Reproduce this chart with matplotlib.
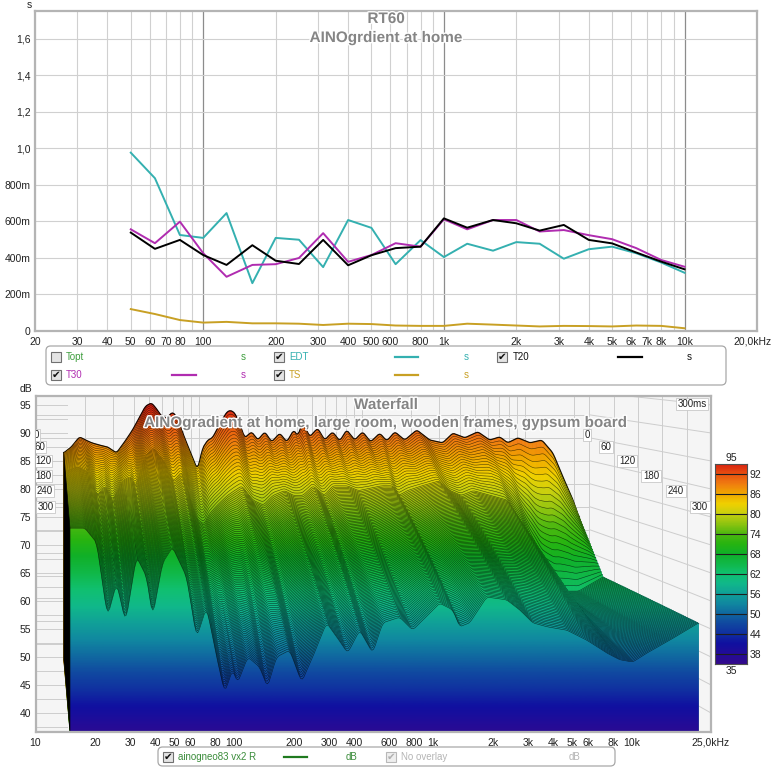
import numpy as np
import matplotlib
matplotlib.use('Agg')
import matplotlib.pyplot as plt
import matplotlib.patheffects as pe
import matplotlib.transforms as mtransforms
from matplotlib.colors import LinearSegmentedColormap, Normalize
from matplotlib.collections import PolyCollection
from matplotlib.patches import FancyBboxPatch, Rectangle, Polygon
from matplotlib.ticker import NullLocator

plt.rcParams['font.family'] = ['Liberation Sans', 'DejaVu Sans']

W, H = 773, 768

# ---------------- RT60 (third octave bands, seconds)
bands = [50, 63, 80, 100, 125, 160, 200, 250, 315, 400, 500, 630, 800,
         1000, 1250, 1600, 2000, 2500, 3150, 4000, 5000, 6300, 8000, 10000]
edt = [0.977, 0.837, 0.526, 0.51, 0.646, 0.262, 0.51, 0.5, 0.35, 0.608, 0.565, 0.366, 0.498,
       0.405, 0.478, 0.44, 0.487, 0.478, 0.396, 0.448, 0.462, 0.426, 0.375, 0.319]
t20 = [0.539, 0.45, 0.499, 0.416, 0.362, 0.47, 0.385, 0.367, 0.499, 0.36, 0.415, 0.454, 0.462,
       0.617, 0.566, 0.608, 0.59, 0.55, 0.581, 0.499, 0.48, 0.43, 0.38, 0.338]
t30 = [0.557, 0.481, 0.599, 0.426, 0.297, 0.362, 0.366, 0.4, 0.536, 0.379, 0.416, 0.481, 0.462,
       0.612, 0.557, 0.608, 0.608, 0.545, 0.553, 0.525, 0.503, 0.454, 0.389, 0.352]
ts = [0.12, 0.093, 0.06, 0.046, 0.05, 0.042, 0.042, 0.04, 0.033, 0.04, 0.038, 0.03, 0.028,
      0.028, 0.04, 0.035, 0.03, 0.025, 0.028, 0.027, 0.025, 0.03, 0.028, 0.015]

rt_ticks = [20, 30, 40, 50, 60, 70, 80, 100, 200, 300, 400, 500, 600, 800,
            1000, 2000, 3000, 4000, 5000, 6000, 7000, 8000, 10000, 20000]
rt_tick_labels = ['20', '30', '40', '50', '60', '70', '80', '100', '200', '300', '400', '500',
                  '600', '800', '1k', '2k', '3k', '4k', '5k', '6k', '7k', '8k', '10k', '20,0kHz']
rt_yticks = [0, 0.2, 0.4, 0.6, 0.8, 1.0, 1.2, 1.4, 1.6]
rt_ylabels = ['0', '200m', '400m', '600m', '800m', '1,0', '1,2', '1,4', '1,6']

# ---------------- Waterfall slices (dB SPL): 0 ms, 60 ms and 300 ms
back_freq = [14.9, 16.6, 18.6, 20.3, 22.1, 24.7, 27.7, 31.4, 35.2, 39.4, 43.5, 47.3, 51.5,
             55.3, 59.3, 63.7, 69.3, 74.5, 78.7, 84.5, 90.7, 98.7, 106, 114, 122, 135, 149,
             157, 167, 179, 192, 212, 231, 255, 281, 315, 348, 384, 406, 436, 481, 538, 594,
             665, 735, 811, 908, 1016, 1138, 1294, 1429, 1600, 1841, 2182, 2624, 3148, 3631,
             4304, 5169, 6119, 7047, 7890, 9097, 10790, 12770, 14930, 17180, 19810, 21880]
back_db = [81.7, 83.0, 85.2, 84.5, 83.9, 83.4, 83.0, 81.7, 84.1, 86.7, 89.5, 91.9, 92.6,
           91.3, 89.7, 89.3, 90.6, 89.3, 86.7, 83.9, 81.2, 78.0, 82.8, 84.5, 85.0, 88.0, 90.6,
           91.0, 90.4, 88.0, 85.0, 86.3, 84.5, 86.3, 84.1, 86.0, 84.1, 86.7, 85.4, 88.4, 85.2,
           87.1, 84.5, 86.3, 84.3, 86.7, 84.5, 86.3, 84.1, 86.0, 84.3, 86.3, 84.5, 86.7, 84.5,
           83.9, 86.0, 85.0, 86.3, 84.5, 85.2, 83.9, 85.0, 83.9, 84.5, 81.7, 76.5, 71.5, 67.1]
front_freq = [14.8, 17.7, 20.3, 23, 25.6, 28.4, 32.2, 36.2, 38.8, 43.6, 48.9, 57.5, 64.6,
              72.5, 81.5, 89.4, 98, 104, 117, 134, 147, 163, 190, 218, 248, 291, 327, 372,
              427, 497, 558, 679, 789, 1079, 1255, 1361, 1528, 1862, 2344, 2728, 3170, 3730,
              4700, 5930, 7480, 8690, 10100, 11900, 15500, 21700]
mid_db = [79, 80, 79, 74, 76, 73, 77, 78, 76, 82, 84, 81, 77,
          79, 73, 69, 68, 70, 72, 74, 75, 76, 73, 72, 74, 75, 74,
          74, 76, 74, 76, 76, 75, 76, 76, 74, 75, 76, 77, 75, 74,
          75, 74, 73, 67, 61, 56, 54, 54, 57]
front_db = [73.0, 73.0, 70.4, 57.1, 63.2, 56.1, 67.9, 64.3, 57.1, 66.8, 69.6, 64.3, 53.4,
            58.9, 50.0, 43.6, 47.7, 45.4, 50.0, 48.2, 44.6, 50.0, 51.2, 45.5, 50.0, 56.1, 53.6,
            50.7, 54.8, 50.7, 56.1, 57.1, 54.8, 59.6, 58.4, 55.4, 56.1, 60.7, 60.2, 58.4, 56.1,
            55.4, 54.8, 53.0, 50.7, 49.5, 49.1, 50.7, 53.0, 56.1]
mid_ms, end_ms = 60, 300
time_ms = [0, 60, 120, 180, 240, 300]
time_labels = ['0', '60', '120', '180', '240', '300']

wf_ticks = [10, 20, 30, 40, 50, 60, 80, 100, 200, 300, 400, 600, 800, 1000,
            2000, 3000, 4000, 5000, 6000, 8000, 10000, 25000]
wf_tick_labels = ['10', '20', '30', '40', '50', '60', '80', '100', '200', '300', '400', '600',
                  '800', '1k', '2k', '3k', '4k', '5k', '6k', '8k', '10k', '25,0kHz']

cmap_levels = [35, 38, 41, 44, 47, 50, 53, 56, 59, 62, 65, 68, 71, 74, 77, 80, 83, 86, 89, 92, 95]
cmap_colors = ['#320a8c', '#220c98', '#1010a0', '#1030a0', '#1048a0', '#1068a0', '#1088a0',
               '#10a098', '#10b88a', '#10c070', '#10b848', '#10b028', '#28b410', '#50b810',
               '#90c410', '#c8d010', '#f0d000', '#f0a800', '#f07c10', '#e85010', '#d82010']


def fpos(x, y):
    return x / W, 1 - y / H


fig = plt.figure(figsize=(W / 100, H / 100), dpi=100)
grey_txt = '#222222'

# =============== RT60 panel
ax1 = fig.add_axes([35 / W, 1 - 331 / H, 722 / W, 320 / H])
ax1.set_xscale('log')
ax1.set_xlim(20, 20000)
ax1.set_ylim(0, 1.753)
for m in (10, 100, 1000):
    for f in range(2, 10):
        ax1.axvline(f * m, color='#d0d0d0', lw=0.8, zorder=0)
for f in (100, 1000, 10000):
    ax1.axvline(f, color='#8c8c8c', lw=0.9, zorder=0)
for v in rt_yticks[1:]:
    ax1.axhline(v, color='#d0d0d0', lw=0.8, zorder=0)
ax1.xaxis.set_minor_locator(NullLocator())
ax1.set_xticks(rt_ticks)
ax1.set_xticklabels(rt_tick_labels)
ax1.set_yticks(rt_yticks)
ax1.set_yticklabels(rt_ylabels)
ax1.tick_params(length=0, labelsize=7.5, colors=grey_txt)
ax1.tick_params(axis='x', pad=4)
ax1.tick_params(axis='y', pad=3)
last = ax1.get_xticklabels()[-1]
last.set_transform(last.get_transform() + mtransforms.ScaledTranslation(-4 / 100, 0, fig.dpi_scale_trans))
for sp in ax1.spines.values():
    sp.set_color('#b4b4b4')
    sp.set_linewidth(1.6)

c_edt, c_t30, c_t20, c_ts = '#34b0b0', '#b02cb0', '#000000', '#c8a024'
ax1.plot(bands, edt, color=c_edt, lw=1.4, zorder=3)
ax1.plot(bands, t30, color=c_t30, lw=1.4, zorder=4)
ax1.plot(bands, t20, color=c_t20, lw=1.4, zorder=5)
ax1.plot(bands, ts, color=c_ts, lw=1.4, zorder=3)

title_kw = dict(ha='center', va='center', fontsize=11, fontweight='bold', color='#858585',
                path_effects=[pe.withStroke(linewidth=2, foreground='white')])
fig.text(*fpos(386, 19), 'RT60', **title_kw)
fig.text(*fpos(386, 38), 'AINOgrdient at home', **title_kw)
fig.text(*fpos(29, 5), 's', fontsize=7.5, ha='center', va='center', color=grey_txt)


def checkbox(x, y, on=True, faded=False):
    ec = '#b8b8b8' if faded else '#707070'
    fc = '#eeeeee' if faded else '#e4e4e4'
    fig.add_artist(Rectangle(fpos(x, y + 5), 10 / W, 10 / H, transform=fig.transFigure,
                             fc=fc, ec=ec, lw=0.8))
    if on:
        fig.text(*fpos(x + 5, y), '\u2714', fontsize=7.5, ha='center', va='center',
                 color='#b0b0b0' if faded else '#111111')


def legline(x0, x1, y, color):
    fig.add_artist(plt.Line2D([x0 / W, x1 / W], [1 - y / H, 1 - y / H], color=color, lw=1.6,
                              transform=fig.transFigure))


def legtext(x, y, s, color):
    fig.text(*fpos(x, y), s, fontsize=7, ha='left', va='center', color=color)


fig.add_artist(FancyBboxPatch(fpos(46, 385), 680 / W, 39 / H, transform=fig.transFigure,
                              boxstyle='round,pad=0,rounding_size=0.006', fc='white',
                              ec='#a8a8a8', lw=0.9))
r1, r2 = 357, 375
checkbox(51, r1, on=False)
legtext(66, r1, 'Topt', '#3e9e3e')
legtext(241, r1, 's', '#3e9e3e')
checkbox(274, r1)
legtext(289, r1, 'EDT', c_edt)
legline(395, 418, r1, c_edt)
legtext(464, r1, 's', c_edt)
checkbox(497, r1)
legtext(513, r1, 'T20', '#111111')
legline(618, 642, r1, c_t20)
legtext(687, r1, 's', '#111111')
checkbox(51, r2)
legtext(66, r2, 'T30', c_t30)
legline(172, 196, r2, c_t30)
legtext(241, r2, 's', c_t30)
checkbox(274, r2)
legtext(289, r2, 'TS', c_ts)
legline(395, 418, r2, c_ts)
legtext(464, r2, 's', c_ts)

# =============== Waterfall panel
cmap = LinearSegmentedColormap.from_list(
    'rew', [((v - 35) / 60, c) for v, c in zip(cmap_levels, cmap_colors)])
norm = Normalize(35, 95)

X_HI = np.log10(25000)
DB_LO, DB_HI = 36.6, 96.6
K0, VY = 0.82, 108.0


def proj(lf, db, k):
    return 1 + k * (lf - 1), VY + k * (np.asarray(db) - VY)


ax2 = fig.add_axes([35.5 / W, 1 - 732 / H, 675.5 / W, 336 / H])
ax2.set_xlim(1, X_HI)
ax2.set_ylim(DB_LO, DB_HI)
ax2.set_facecolor('#f5f5f5')

# perspective grid (back wall + right wall)
gcol = '#cdcdcd'
grid_f = [f * m for m in (10, 100, 1000, 10000) for f in range(1, 10) if f * m <= 20000]
xr, _ = proj(X_HI, 0, K0)
for f in grid_f:
    xg, _ = proj(np.log10(f), 0, K0)
    ax2.plot([xg, xg], [VY + K0 * (DB_LO - VY), DB_HI], color=gcol, lw=0.7, zorder=0.5)
for t in time_ms:
    k = K0 + (1 - K0) * t / end_ms
    xt, _ = proj(X_HI, 0, k)
    ax2.plot([xt, xt], [VY + k * (DB_LO - VY), DB_HI], color=gcol, lw=0.7, zorder=0.5)
for L in range(40, 100, 5):
    _, yg = proj(1, L, K0)
    ax2.plot([1, xr], [yg, yg], color=gcol, lw=0.7, zorder=0.5)
    ax2.plot([xr, X_HI], [yg, L], color=gcol, lw=0.7, zorder=0.5)
for L in np.arange(37.5, 96, 2.5):
    ax2.plot([1, 1.16], [L, L], color=gcol, lw=0.7, zorder=0.5)

# surface slices, painted back to front
lf = np.linspace(np.log10(14.9), np.log10(21700), 380)
kern = np.ones(3) / 3


def on_grid(freqs, vals):
    v = np.interp(lf, np.log10(freqs), vals)
    return np.convolve(np.pad(v, 1, mode='edge'), kern, mode='valid')


back = on_grid(back_freq, back_db)
mid = on_grid(front_freq, mid_db)
front = on_grid(front_freq, front_db)
s_mid = mid_ms / end_ms

nsl = 110
ends = []
for i in range(nsl):
    s = i / (nsl - 1)
    k = K0 + (1 - K0) * s
    if s <= s_mid:
        db = back + (mid - back) * (s / s_mid)
    else:
        db = mid + (front - mid) * ((s - s_mid) / (1 - s_mid))
    X, Y = proj(lf, db, k)
    yb = VY + k * (DB_LO - VY)
    ends.append((X[-1], Y[-1]))
    z = 2 + i * 0.02
    if i < nsl - 1:
        verts = np.zeros((len(lf) - 1, 4, 2))
        verts[:, 0, 0] = X[:-1]
        verts[:, 0, 1] = yb
        verts[:, 1, 0] = X[:-1]
        verts[:, 1, 1] = Y[:-1]
        verts[:, 2, 0] = X[1:]
        verts[:, 2, 1] = Y[1:]
        verts[:, 3, 0] = X[1:]
        verts[:, 3, 1] = yb
        cols = cmap(norm(0.5 * (Y[:-1] + Y[1:])))
        ax2.add_collection(PolyCollection(verts, facecolors=cols, edgecolors=cols,
                                          linewidths=0.4, zorder=z))
    else:
        clip = Polygon(np.column_stack([np.r_[X[0], X, X[-1]], np.r_[DB_LO, Y, DB_LO]]),
                       closed=True, fc='none', ec='none', transform=ax2.transData)
        ax2.add_patch(clip)
        grad = np.linspace(DB_LO, DB_HI, 400).reshape(-1, 1)
        im = ax2.imshow(grad, extent=[1, X_HI, DB_LO, DB_HI], origin='lower', aspect='auto',
                        cmap=cmap, norm=norm, zorder=z)
        im.set_clip_path(clip)
    ax2.plot(X, Y, color='black', lw=0.9 if i == 0 else 0.4, alpha=0.9 if i == 0 else 0.68,
             zorder=z + 0.01)

# right side face, behind the slices (closes the gaps at the slice ends)
ax2.add_patch(Polygon(ends + [(ends[-1][0], DB_LO), (ends[0][0], VY + K0 * (DB_LO - VY))],
                      closed=True, fc='#127f86', ec='none', zorder=1.9))

# left side face
xb_l, yb_l = proj(lf[0], back[0], K0)
xf_l, yf_l = proj(lf[0], front[0], 1.0)
ax2.add_patch(Polygon([(xb_l, yb_l), (xb_l, VY + K0 * (DB_LO - VY)), (xf_l, DB_LO), (xf_l, yf_l)],
                      closed=True, fc='black', ec='black', lw=0.5, zorder=10))

ax2.set_xticks(np.log10(wf_ticks))
ax2.set_xticklabels(wf_tick_labels)
ax2.set_yticks(range(40, 100, 5))
ax2.tick_params(length=0, labelsize=7.5, colors=grey_txt)
ax2.tick_params(axis='x', pad=4)
ax2.tick_params(axis='y', pad=3)
for sp in ax2.spines.values():
    sp.set_color('#b4b4b4')
    sp.set_linewidth(1.6)
    sp.set_zorder(20)

fig.text(*fpos(386, 405), 'Waterfall', **title_kw)
fig.text(*fpos(386, 423), 'AINOgradient at home, large room, wooden frames, gypsum board', **title_kw)
fig.text(*fpos(26, 389), 'dB', fontsize=7.5, ha='center', va='center', color=grey_txt)

box_kw = dict(boxstyle='square,pad=0.15', fc='white', ec='#c8c8c8', lw=0.6)
fig.text(*fpos(692, 404), '300ms', fontsize=7, ha='center', va='center', color=grey_txt,
         bbox=box_kw, zorder=30)
right_pos = [(587, 435), (606, 447), (627, 461), (651, 476), (676, 491), (700, 507)]
left_pos = [(39, 435), (45, 447), (51, 461), (51, 476), (53, 491), (54, 507)]
for lab, (x, y) in zip(time_labels, right_pos):
    fig.text(*fpos(x, y), lab, fontsize=7, ha='center', va='center', color=grey_txt,
             bbox=box_kw, zorder=30)
for lab, (x, y) in zip(time_labels, left_pos):
    t = fig.text(*fpos(x, y), lab, fontsize=7, ha='right', va='center', color=grey_txt,
                 bbox=box_kw, zorder=1)
    t.set_clip_path(ax2.patch)
    t.set_clip_on(True)

# colour scale
cax = fig.add_axes([715 / W, 1 - 664 / H, 32 / W, 200 / H])
cax.imshow(np.linspace(35, 95, 300).reshape(-1, 1), extent=[0, 1, 35, 95], origin='lower',
           aspect='auto', cmap=cmap, norm=norm)
cb_ticks = list(range(38, 95, 6))
for v in cb_ticks:
    cax.axhline(v, color='#1e1e1e', lw=0.8)
cax.set_xticks([])
cax.yaxis.tick_right()
cax.set_yticks(cb_ticks)
cax.tick_params(length=0, labelsize=7.5, pad=2, colors=grey_txt)
for sp in cax.spines.values():
    sp.set_color('#505050')
    sp.set_linewidth(0.8)
fig.text(*fpos(731, 458), '95', fontsize=7.5, ha='center', va='center', color=grey_txt)
fig.text(*fpos(731, 671), '35', fontsize=7.5, ha='center', va='center', color=grey_txt)

# waterfall legend
fig.add_artist(FancyBboxPatch(fpos(158, 766), 457 / W, 19 / H, transform=fig.transFigure,
                              boxstyle='round,pad=0,rounding_size=0.006', fc='white',
                              ec='#a8a8a8', lw=0.9))
r3 = 757
checkbox(163, r3)
legtext(178, r3, 'ainogneo83 vx2 R', '#3a8c3a')
legline(284, 307, r3, '#1f7a1f')
legtext(346, r3, 'dB', '#3a8c3a')
checkbox(386, r3, faded=True)
legtext(401, r3, 'No overlay', '#b4b4b4')
legtext(569, r3, 'dB', '#b4b4b4')

fig.savefig('out.png', dpi=100)
